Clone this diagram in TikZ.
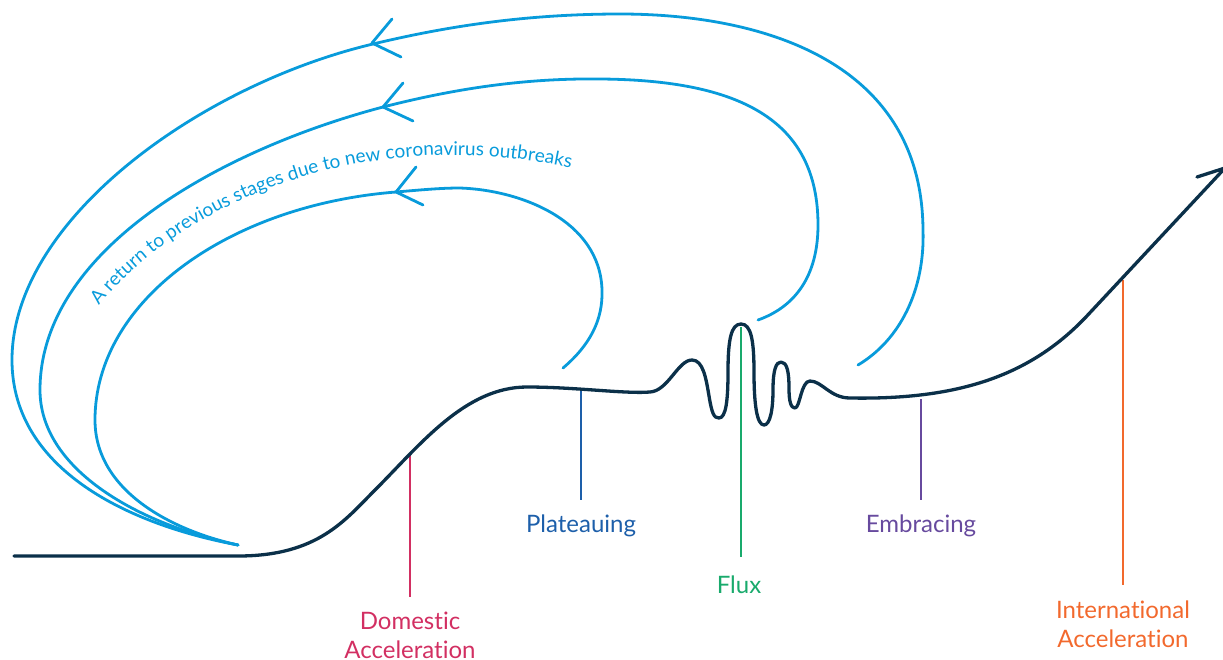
\documentclass[tikz,border=0pt]{standalone}
\usepackage{fontspec}
\setmainfont{Lato}[Ligatures={NoCommon}]
\usetikzlibrary{decorations.text}
\definecolor{navy}{HTML}{0B3049}
\definecolor{loopblue}{HTML}{089BDB}
\definecolor{cdom}{HTML}{D22F62}
\definecolor{cplat}{HTML}{1D5FAA}
\definecolor{cflux}{HTML}{19AA6C}
\definecolor{cemb}{HTML}{674A9E}
\definecolor{cint}{HTML}{F2692D}
\begin{document}
\begin{tikzpicture}[x=1pt,y=-1pt,
  mainline/.style={draw=navy, line width=3.3pt, line cap=round, line join=round},
  loopline/.style={draw=loopblue, line width=2.8pt, line cap=round, line join=round},
  tick/.style={line width=1.8pt},
  lab/.style={font=\fontsize{24}{29}\selectfont, align=center, anchor=north, inner sep=0pt},
]
\useasboundingbox (0,0) rectangle (1223,659);
\clip (0,0) rectangle (1223,659);

% labels
\node[lab, text=cplat, anchor=base] (plat) at (581,532) {Plateauing};
\node[lab, text=cemb, anchor=base] (emb) at (921,532) {Embracing};
\node[lab, text=cflux, anchor=base] (flux) at (739,593) {Flux};
\node[lab, text=cdom] (dom) at (410,612) {Domestic\\Acceleration};
\node[lab, text=cint] (intl) at (1123,601) {International\\Acceleration};

% points on the curve
\coordinate (pDom) at (410,455);
\coordinate (pPlat) at (581,391);
\coordinate (pFlux) at (741,327);
\coordinate (pEmb) at (921,399);
\coordinate (pInt) at (1123,280);

\draw[tick, cdom, shorten >=15pt] (pDom) -- (dom.north);
\draw[tick, cplat, shorten >=14pt] (pPlat) -- (plat.north);
\draw[tick, cflux, shorten >=18pt] (pFlux) -- (pFlux |- flux.north);
\draw[tick, cemb, shorten >=14pt] (pEmb) -- (emb.north);
\draw[tick, cint, shorten >=16pt] (pInt) -- (intl.north);

% main curve
\draw[mainline] (14,556) -- (238,556)
 .. controls (318,556) and (345,520) .. (375,490)
 .. controls (420,445) and (465,387) .. (527,387)
 .. controls (575,387) and (625,394) .. (650,392)
 .. controls (668,391) and (678,360) .. (692,360)
 .. controls (703,360) and (706,378) .. (709,396)
 .. controls (712,414) and (714,418) .. (719,418)
 .. controls (726,418) and (728,400) .. (728,372)
 .. controls (728,340) and (731,324) .. (741,324)
 .. controls (751,324) and (754,340) .. (754,372)
 .. controls (754,405) and (757,425) .. (764,425)
 .. controls (770,425) and (773,410) .. (773,390)
 .. controls (773,370) and (776,362) .. (781,362)
 .. controls (787,362) and (789,372) .. (789,388)
 .. controls (789,402) and (791,408) .. (795,408)
 .. controls (800,408) and (801,381) .. (810,381)
 .. controls (822,381) and (830,398) .. (850,398)
 .. controls (960,400) and (1030,375) .. (1085,318)
 -- (1225,168) -- (1197,177);

% loops
\draw[loopline] (858,365) .. controls (900,340) and (925,290) .. (923,230)
  .. controls (922,60) and (760,14) .. (620,14)
  .. controls (520,14) and (440,28) .. (373,44)
  .. controls (200,85) and (12,220) .. (12,360)
  .. controls (12,470) and (130,525) .. (238,545);
\draw[loopline] (758,320) .. controls (800,305) and (818,270) .. (818,225)
  .. controls (818,120) and (740,80) .. (600,79)
  .. controls (520,78) and (450,90) .. (383,107)
  .. controls (220,150) and (40,250) .. (40,390)
  .. controls (40,470) and (140,525) .. (238,545);
\draw[loopline] (563,368) .. controls (590,345) and (603,320) .. (602,290)
  .. controls (600,220) and (520,190) .. (460,188)
  .. controls (440,188) and (420,190) .. (396,192)
  .. controls (230,205) and (95,300) .. (95,420)
  .. controls (95,490) and (170,530) .. (238,545);

% arrowheads
\draw[loopline] (392,19) -- (372,43) -- (401,57);
\draw[loopline] (403,83) -- (383,107) -- (413,121);
\draw[loopline] (416,167) -- (396,192) -- (423,205);

% curved text
\path[decorate, decoration={text along path, text align=left, text color=loopblue,
  text={|\fontsize{19}{20}\selectfont|A return to previous stages due to new coronavirus outbreaks}}]
  (99,306) .. controls (170,215) and (350,120) .. (570,168) -- (640,183);
\end{tikzpicture}
\end{document}
